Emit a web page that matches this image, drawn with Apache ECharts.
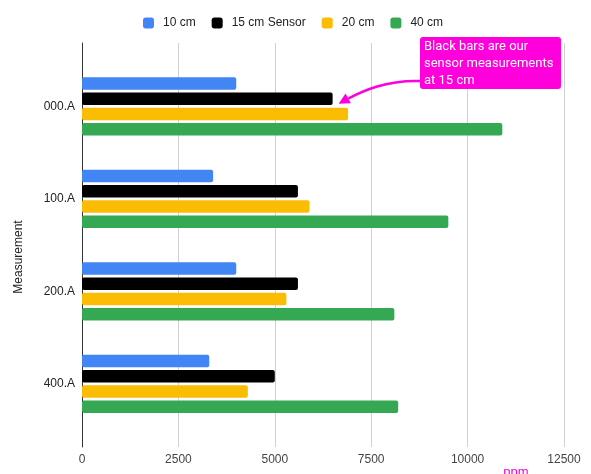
<!DOCTYPE html>
<html>
<head>
<meta charset="utf-8">
<script src="https://cdn.jsdelivr.net/npm/echarts@6/dist/echarts.min.js"></script>
<style>
  html, body { margin: 0; padding: 0; background: #ffffff; }
  #chart { width: 591px; height: 474px; }
</style>
</head>
<body>
<div id="chart"></div>
<script>
// Measurement groups (top to bottom)
const categories = ['000.A', '100.A', '200.A', '400.A'];

// Readings in ppm for each sensor distance
const seriesNames = ['10 cm', '15 cm Sensor', '20 cm', '40 cm'];
const values10cm = [4000, 3400, 4000, 3300];
const values15cmSensor = [6500, 5600, 5600, 5000];
const values20cm = [6900, 5900, 5300, 4300];
const values40cm = [10900, 9500, 8100, 8200];

const xTicks = [0, 2500, 5000, 7500, 10000, 12500];
const annotationText = ['Black bars are our', 'sensor measurements', 'at 15 cm'];

const colors = ['#4285F4', '#000000', '#FBBC04', '#34A853'];
const allValues = [values10cm, values15cmSensor, values20cm, values40cm];

const FONT = '"Liberation Sans", Arial, sans-serif';
const GRID_LEFT = 82, GRID_RIGHT = 27;

const chart = echarts.init(document.getElementById('chart'), null, { renderer: 'canvas' });

const series = seriesNames.map((name, i) => ({
  name: name,
  type: 'bar',
  xAxisIndex: 0,
  yAxisIndex: 0,
  data: allValues[i],
  barWidth: 12.5,
  barGap: '22%',
  itemStyle: { color: colors[i], borderRadius: 2 },
  emphasis: { disabled: true },
  animation: false
}));

chart.setOption({
  animation: false,
  color: colors,
  textStyle: { fontFamily: FONT },
  legend: {
    data: seriesNames,
    top: 12,
    left: 138,
    icon: 'roundRect',
    itemWidth: 11,
    itemHeight: 11,
    itemGap: 16,
    textStyle: { fontSize: 12, color: '#222222', fontFamily: FONT, padding: [0, 0, 0, 4] }
  },
  grid: [
    // bars
    { left: GRID_LEFT, right: GRID_RIGHT, top: 60, bottom: 44 },
    // gridlines, baseline and tick labels
    { left: GRID_LEFT, right: GRID_RIGHT, top: 43, bottom: 27 }
  ],
  xAxis: [
    {
      gridIndex: 0, type: 'value', min: xTicks[0], max: xTicks[xTicks.length - 1], interval: 2500,
      show: false
    },
    {
      gridIndex: 1, type: 'value', min: xTicks[0], max: xTicks[xTicks.length - 1], interval: 2500,
      axisLine: { show: false },
      axisTick: { show: false },
      axisLabel: { fontSize: 12, color: '#444444', margin: 7, fontFamily: FONT, formatter: v => String(v) },
      splitLine: { show: true, lineStyle: { color: '#d0d0d0', width: 1 } }
    }
  ],
  yAxis: [
    {
      gridIndex: 0, type: 'category', data: categories, inverse: true,
      axisLine: { show: false },
      axisTick: { show: false },
      axisLabel: { fontSize: 12, color: '#222222', margin: 7, fontFamily: FONT }
    },
    {
      gridIndex: 1, type: 'value', min: 0, max: 1,
      axisLine: { show: true, lineStyle: { color: '#333333', width: 1 } },
      axisTick: { show: false },
      axisLabel: { show: false },
      splitLine: { show: false }
    }
  ],
  series: series
});

// Callout pointing at the end of the 15 cm bar of the first group
const tip = chart.convertToPixel({ xAxisIndex: 0, yAxisIndex: 0 }, [values15cmSensor[0], categories[0]]);
const tipX = tip[0] + 6;
const tipY = tip[1] - 2.5;

const boxX = 420, boxY = 37, boxW = 141, boxH = 52;
const startX = boxX, startY = boxY + 44;

// arrowhead direction from the curve's last control point
const c2x = tipX + 18, c2y = tipY - 10;
const ang = Math.atan2(tipY - c2y, tipX - c2x);
const headLen = 11, headHalf = 5.5;
const bx = tipX - headLen * Math.cos(ang), by = tipY - headLen * Math.sin(ang);
const px = -Math.sin(ang) * headHalf, py = Math.cos(ang) * headHalf;

chart.setOption({
  graphic: [
    {
      type: 'text', x: 19, y: 257, rotation: Math.PI / 2,
      style: { text: 'Measurement', font: '12px ' + FONT, fill: '#222222', textAlign: 'center', textVerticalAlign: 'middle' }
    },
    {
      type: 'text', x: 516, y: 472,
      style: { text: 'ppm', font: '13px ' + FONT, fill: '#ff00dd', textAlign: 'center', textVerticalAlign: 'middle' }
    },
    {
      type: 'rect',
      shape: { x: boxX, y: boxY, width: boxW, height: boxH, r: 3 },
      style: { fill: '#ff00dd' }
    },
    {
      type: 'text', x: boxX + 4, y: boxY + 1,
      style: {
        text: annotationText.join('\n'),
        font: '13px Roboto, "Liberation Sans", sans-serif',
        lineHeight: 17,
        fill: '#ffffff'
      }
    },
    {
      type: 'bezierCurve',
      shape: {
        x1: startX, y1: startY,
        x2: bx, y2: by,
        cpx1: startX - 35, cpy1: startY - 1,
        cpx2: c2x + 5, cpy2: c2y - 2
      },
      style: { stroke: '#ff00dd', lineWidth: 2.5, fill: null }
    },
    {
      type: 'polygon',
      shape: { points: [[tipX, tipY], [bx + px, by + py], [bx - px, by - py]] },
      style: { fill: '#ff00dd' }
    }
  ]
});
</script>
</body>
</html>
